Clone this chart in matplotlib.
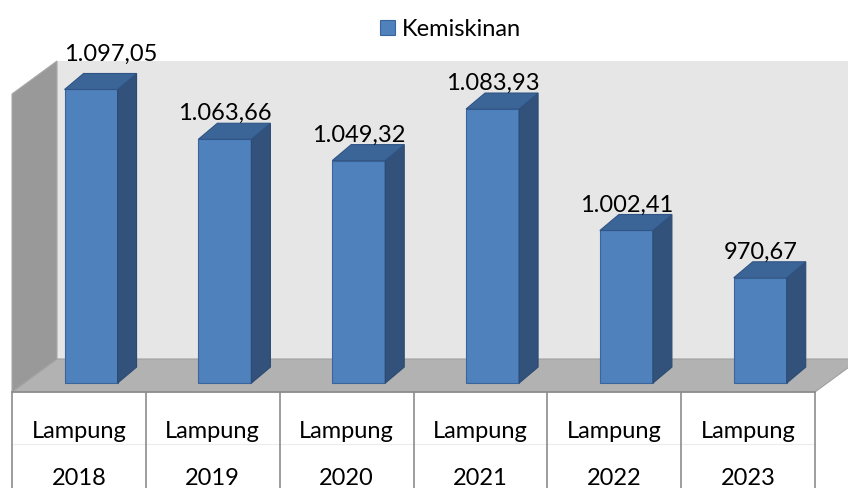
#!/usr/bin/env python3
import matplotlib
matplotlib.use('Agg')
import matplotlib.pyplot as plt
from matplotlib.patches import Polygon, Rectangle

regions = ['Lampung', 'Lampung', 'Lampung', 'Lampung', 'Lampung', 'Lampung']
years = ['2018', '2019', '2020', '2021', '2022', '2023']
values = [1097.05, 1063.66, 1049.32, 1083.93, 1002.41, 970.67]
value_labels = ['1.097,05', '1.063,66', '1.049,32', '1.083,93', '1.002,41', '970,67']
series_name = 'Kemiskinan'

YMIN, YMAX = 900, 1100

plt.rcParams['font.family'] = ['Lato', 'DejaVu Sans']
FS = 17

W, H = 848, 489
fig = plt.figure(figsize=(W / 100, H / 100), dpi=100)
ax = fig.add_axes([0, 0, 1, 1])
ax.axis('off')

# pixels per data unit (x = category, y = value)
pxx = 803 / len(values)
pxy = 298 / (YMAX - YMIN)
x0 = -0.5 - 12 / pxx
y0 = YMIN - 96 / pxy
ax.set_xlim(x0, x0 + W / pxx)
ax.set_ylim(y0, y0 + H / pxy)

# full depth of the 3d box, bar depth, bar offset into the box
dx, dy = 45 / pxx, 33 / pxy
bdx, bdy = 19 / pxx, 16 / pxy
t0 = 0.27
bw = 53 / pxx

n = len(values)
left, right = -0.5, n - 0.5

def poly(pts, fc, ec='none', lw=0.8):
    ax.add_patch(Polygon(pts, closed=True, facecolor=fc, edgecolor=ec, linewidth=lw))

# walls and floor
poly([(left + dx, YMIN + dy), (right + dx, YMIN + dy), (right + dx, YMAX + dy), (left + dx, YMAX + dy)], '#e6e6e6')
poly([(left, YMIN), (left, YMAX), (left + dx, YMAX + dy), (left + dx, YMIN + dy)], '#999999', '#a8a8a8')
poly([(left, YMIN), (right, YMIN), (right + dx, YMIN + dy), (left + dx, YMIN + dy)], '#b2b2b2', '#a0a0a0')

# bars
for i, v in enumerate(values):
    xl = i - bw / 2 + t0 * dx
    xr = xl + bw
    yb = YMIN + t0 * dy
    yt = v + t0 * dy
    ax.add_patch(Rectangle((xl, yb), bw, yt - yb, facecolor='#4f81bd', edgecolor='#3a649a', linewidth=0.8))
    poly([(xr, yb), (xr + bdx, yb + bdy), (xr + bdx, yt + bdy), (xr, yt)], '#32527c', '#2c4a72')
    poly([(xl, yt), (xr, yt), (xr + bdx, yt + bdy), (xl + bdx, yt + bdy)], '#3c6597', '#2f5485')

    nx, ny = (20 / pxx, 10 / pxy) if i == 0 else (0, 0)
    ax.text(i + t0 * dx + nx, yt + 20 / pxy + ny, value_labels[i], ha='center', va='baseline',
            fontsize=FS, color='black')

# category table under the floor
ybot = y0 - 1
ax.plot([left, right], [YMIN, YMIN], color='#8c8c8c', lw=1.2)
ax.plot([left, right], [YMIN - 52 / pxy] * 2, color='#ececec', lw=0.8)
for k in range(n + 1):
    ax.plot([left + k, left + k], [YMIN, ybot], color='#8c8c8c', lw=1.2)
for i in range(n):
    ax.text(i, YMIN - 45 / pxy, regions[i], ha='center', va='baseline', fontsize=FS)
    ax.text(i, YMIN - 92 / pxy, years[i], ha='center', va='baseline', fontsize=FS)

# legend
fig.patches.append(Rectangle((380 / W, 1 - 36 / H), 15 / W, 15 / H, transform=fig.transFigure,
                             facecolor='#4f81bd', edgecolor='#3a649a', linewidth=0.8))
fig.text(402 / W, 1 - 36 / H, series_name, ha='left', va='baseline', fontsize=FS)

fig.savefig('out.png', dpi=100)
